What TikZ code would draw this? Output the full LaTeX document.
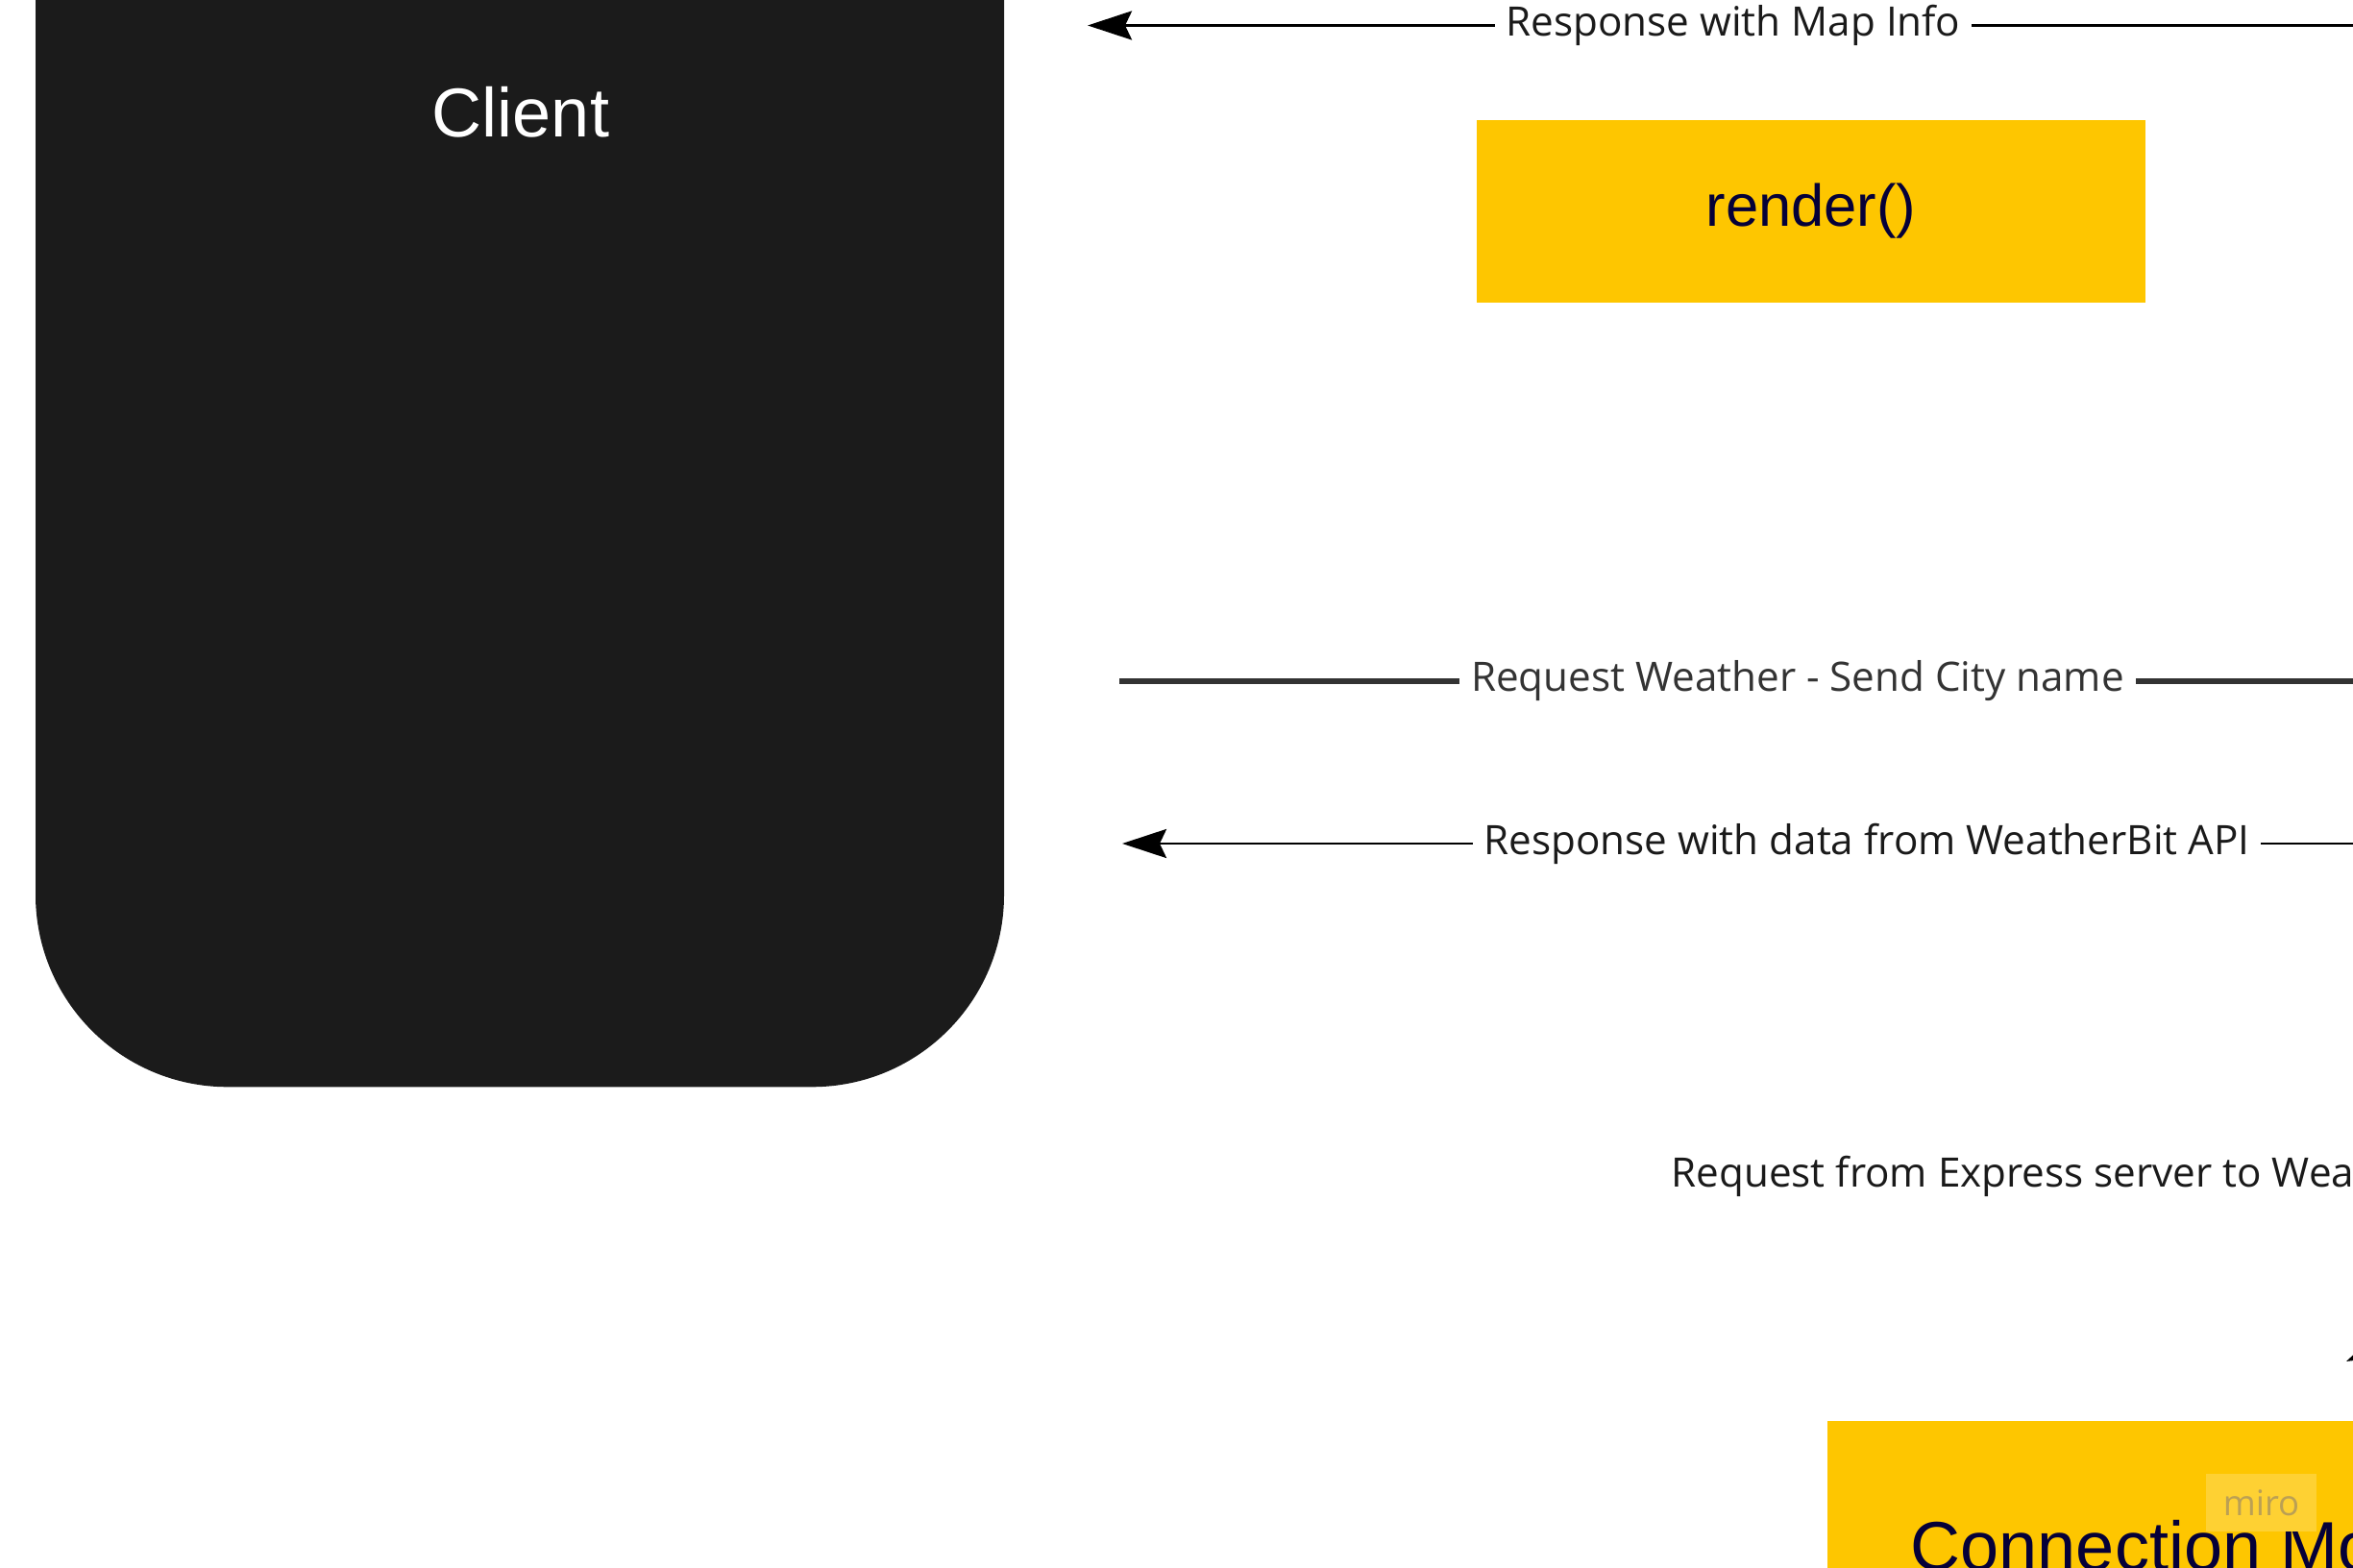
\documentclass[tikz,border=0pt]{standalone}
\usepackage{fontspec}
\usepackage{xcolor}
\usetikzlibrary{arrows.meta,calc,positioning}
\newfontfamily\arialfont{Liberation Sans}
\newfontfamily\labelfont{Open Sans}
\definecolor{client_black}{HTML}{1B1B1B}
\definecolor{miro_yellow}{HTML}{FEC600}
\definecolor{miro_navy}{HTML}{050038}
\definecolor{line_grey}{HTML}{333333}
\definecolor{label_black}{HTML}{1A1A1A}
\definecolor{mark_yellow}{HTML}{FED133}
\definecolor{mark_text}{HTML}{BBA054}
\tikzset{every scope/.style={>={Stealth[length=4.6mm,width=3mm,inset=0.7mm]}}}
\tikzstyle{client_box} =
  [ rectangle
  , rounded corners=2cm
  , fill=client_black
  , inner sep=0pt
  ]
\tikzstyle{client_text} =
  [ text=white
  , font=\arialfont\fontsize{20.5}{24}\selectfont
  ]
\tikzstyle{module_box} =
  [ rectangle
  , fill=miro_yellow
  , inner sep=0pt
  ]
\tikzstyle{module_text} =
  [ text=miro_navy
  , inner sep=0pt
  ]
\tikzstyle{arrow_label} =
  [ fill=white
  , text=label_black
  , inner sep=1.2mm
  , font=\labelfont\fontsize{12}{14}\selectfont
  ]
\tikzstyle{request_label} =
  [ arrow_label
  , text=line_grey
  ]
\tikzstyle{thin_arrow} =
  [ ->
  , line width=0.85pt
  , draw=black
  ]
\tikzstyle{request_line} =
  [ ->
  , line width=1.45pt
  , draw=line_grey
  ]
\tikzstyle{watermark} =
  [ fill=mark_yellow
  , text=mark_text
  , minimum width=1.15cm
  , minimum height=0.6cm
  , inner sep=0pt
  , font=\labelfont\fontsize{10.4}{12}\selectfont
  ]

\begin{document}
\begin{tikzpicture}
    \useasboundingbox (0,0) rectangle (24.49,-16.32);
    \clip (0,0) rectangle (24.49,-16.32);

    % client
    \node[client_box, minimum width=10.08cm, minimum height=13.82cm, anchor=south] (client) at (5.41,-11.32) {};
    \node[client_text] (client_name) at (5.42,-1.17) {Client};

    % render and connection boxes
    \node[module_box, minimum width=6.96cm, minimum height=1.9cm] (render) at (18.85,-2.20)
      {\arialfont\fontsize{17.5}{21}\selectfont\raisebox{-0.5mm}{\textcolor{miro_navy}{render()}}};
    \node[module_box, minimum width=7cm, minimum height=3cm, anchor=north west] (connection_box) at (19.01,-14.78) {};
    \node[module_text, anchor=base west, font=\arialfont\fontsize{20.5}{24}\selectfont] (connection_name) at (19.88,-16.34) {Connection Mo};
    \node[watermark] (miro_mark) at (23.535,-15.64) {miro};

    % connector ends
    \coordinate (client_map)  at (11.32,-0.265);
    \coordinate (server_map)  at (24.76,-0.265);
    \coordinate (client_city) at (11.65,-7.09);
    \coordinate (server_city) at (25.77,-7.09);
    \coordinate (client_data) at (11.68,-8.78);
    \coordinate (server_data) at (27.18,-8.78);
    \coordinate (server_api)  at (25.40,-13.70);
    \coordinate (module_tip)  at (24.42,-14.17);

    \draw[thin_arrow]   (server_map)  -- node[arrow_label]{Response with Map Info} (client_map);
    \draw[request_line] (client_city) -- node[request_label]{Request Weather - Send City name} (server_city);
    \draw[thin_arrow]   (server_data) -- node[arrow_label]{Response with data from WeatherBit API} (client_data);
    \draw[thin_arrow]   (server_api)  -- (module_tip);

    \node[arrow_label, fill=none, inner sep=0pt, anchor=base west] (api_request) at (17.39,-12.35) {Request from Express server to Wea};
\end{tikzpicture}
\end{document}
